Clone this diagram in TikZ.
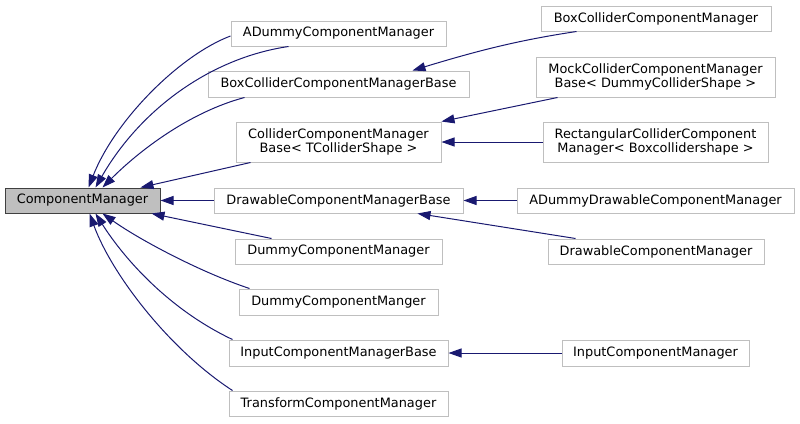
\documentclass[tikz,border=0pt]{standalone}
\usepackage{fontspec}
\setmainfont{DejaVu Sans}
\usetikzlibrary{arrows.meta}
\definecolor{edgeblue}{HTML}{191970}
\definecolor{boxgray}{HTML}{BFBFBF}
\definecolor{darkborder}{HTML}{404040}
\begin{document}
\begin{tikzpicture}[x=1pt,y=-1pt,
  box/.style={draw=boxgray,line width=1pt,fill=white,inner sep=0pt,align=center,
    font=\fontsize{12.9}{13.6}\selectfont},
  rootbox/.style={box,draw=darkborder,fill=boxgray},
  edge/.style={draw=edgeblue,line width=1pt,{Triangle[length=13pt,width=9pt]}-}]
\useasboundingbox (0,0) rectangle (800,423);
% nodes
\node[rootbox,minimum width=155pt,minimum height=25pt] (cm) at (82.5,200.5) {ComponentManager};
\node[box,minimum width=215pt,minimum height=25pt] (adummy) at (338.5,33.5) {ADummyComponentManager};
\node[box,minimum width=261pt,minimum height=26pt] (boxbase) at (338.5,84) {BoxColliderComponentManagerBase};
\node[box,minimum width=205pt,minimum height=40pt] (colbase) at (338.5,142) {ColliderComponentManager\\Base< TColliderShape >};
\node[box,minimum width=249pt,minimum height=25pt] (drawbase) at (338.5,200.5) {DrawableComponentManagerBase};
\node[box,minimum width=207pt,minimum height=25pt] (dummycm) at (338.5,251.5) {DummyComponentManager};
\node[box,minimum width=199pt,minimum height=26pt] (dummycmgr) at (338.5,302) {DummyComponentManger};
\node[box,minimum width=219pt,minimum height=26pt] (inputbase) at (338.5,353) {InputComponentManagerBase};
\node[box,minimum width=219pt,minimum height=25pt] (transform) at (338.5,403.5) {TransformComponentManager};
\node[box,minimum width=230pt,minimum height=25pt] (boxcm) at (656,18.5) {BoxColliderComponentManager};
\node[box,minimum width=239pt,minimum height=40pt] (mock) at (655.5,77) {MockColliderComponentManager\\Base< DummyColliderShape >};
\node[box,minimum width=225pt,minimum height=40pt] (rect) at (655.5,142) {RectangularColliderComponent\\Manager< Boxcollidershape >};
\node[box,minimum width=277pt,minimum height=25pt] (adrawable) at (655.5,200.5) {ADummyDrawableComponentManager};
\node[box,minimum width=216pt,minimum height=25pt] (drawcm) at (656,251.5) {DrawableComponentManager};
\node[box,minimum width=187pt,minimum height=26pt] (inputcm) at (655.5,353) {InputComponentManager};
% edges to ComponentManager
\draw[edge] ([xshift=84pt]cm.north west) .. controls (115,120) and (180,55) .. ([yshift=-2.5pt]adummy.west);
\draw[edge] ([xshift=91pt]cm.north west) .. controls (140,110) and (210,58) .. ([xshift=58pt]adummy.south west);
\draw[edge] ([xshift=98pt]cm.north west) .. controls (140,150) and (190,112) .. ([xshift=37pt]boxbase.south west);
\draw[edge] ([xshift=136pt]cm.north west) -- ([xshift=15pt]colbase.south west);
\draw[edge] (cm.east) -- (drawbase.west);
\draw[edge] ([xshift=147pt]cm.south west) -- ([xshift=37pt]dummycm.north west);
\draw[edge] ([xshift=98pt]cm.south west) .. controls (140,240) and (200,272) .. ([xshift=11pt]dummycmgr.north west);
\draw[edge] ([xshift=91pt]cm.south west) .. controls (125,260) and (170,310) .. ([xshift=4pt]inputbase.north west);
\draw[edge] ([xshift=85pt]cm.south west) .. controls (112,275) and (170,350) .. ([xshift=4pt]transform.north west);
% second level
\draw[edge] ([xshift=205pt]boxbase.north west) .. controls (480,50) and (520,40) .. ([xshift=36pt]boxcm.south west);
\draw[edge] (colbase.north east) -- ([xshift=22pt]mock.south west);
\draw[edge] (colbase.east) -- (rect.west);
\draw[edge] (drawbase.east) -- (adrawable.west);
\draw[edge] ([xshift=204pt]drawbase.south west) -- ([xshift=28pt]drawcm.north west);
\draw[edge] (inputbase.east) -- (inputcm.west);
\end{tikzpicture}
\end{document}
